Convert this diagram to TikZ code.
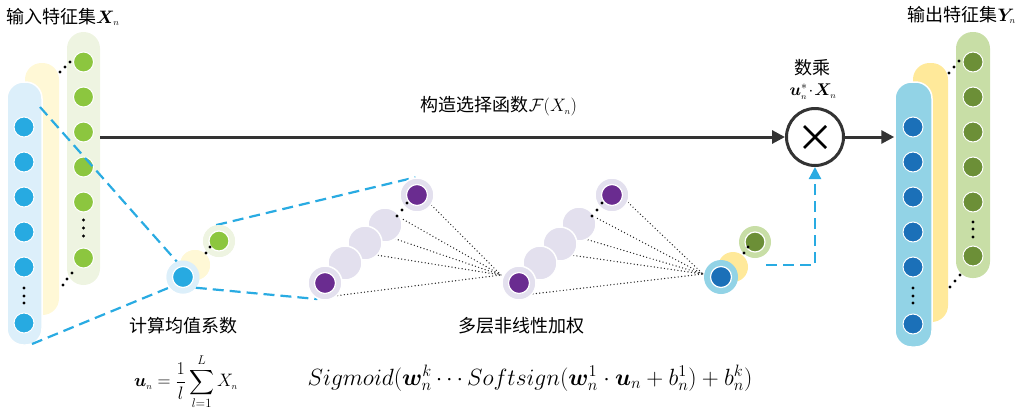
\RequirePackage{fix-cm}
\documentclass[tikz,border=0pt]{standalone}
\usepackage{amsmath,bm}
\usepackage{fontspec}
\newfontfamily\cjk{Noto Sans CJK SC}
\usetikzlibrary{arrows.meta}
\definecolor{lbA}{HTML}{DCEFFA}
\definecolor{lyA}{HTML}{FFF8D6}
\definecolor{lgA}{HTML}{EEF4E1}
\definecolor{cyanA}{HTML}{27AAE1}
\definecolor{grnA}{HTML}{8CC63F}
\definecolor{lbB}{HTML}{92D3E6}
\definecolor{lyB}{HTML}{FFE99A}
\definecolor{lgB}{HTML}{C8DEA6}
\definecolor{dbB}{HTML}{1B70B8}
\definecolor{olB}{HTML}{6C8F37}
\definecolor{purp}{HTML}{6A2C90}
\definecolor{lav}{HTML}{E3E0EE}
\definecolor{dgray}{HTML}{333333}
\definecolor{dashc}{HTML}{29ABE2}
\begin{document}
\begin{tikzpicture}[x=1pt,y=-1pt,
 pill/.style={rectangle, rounded corners=16.5pt, inner sep=0pt},
 cell/.style={circle, draw=white, line width=1pt, inner sep=0pt, minimum size=20pt},
 ring/.style={circle, inner sep=0pt, minimum size=33pt},
 core/.style={circle, draw=white, line width=1.2pt, inner sep=0pt, minimum size=21pt},
 hid/.style={circle, fill=lav, draw=white, line width=1.5pt, inner sep=0pt, minimum size=34pt},
 dsh/.style={draw=dashc, line width=2.2pt, dash pattern=on 11pt off 6pt},
 dotl/.style={draw=black!85, line width=1.4pt, line cap=round, dash pattern=on 0pt off 3.4pt},
 darr/.style={draw=dgray, line width=3pt, -{Triangle[length=13pt,width=13pt]}},
 cjkt/.style={font=\cjk\fontsize{18}{20}\selectfont, inner sep=0pt},
]
\useasboundingbox (0,0) rectangle (1022,413);

% ---------- left stack ----------
\node[pill, fill=lgA, minimum width=33pt, minimum height=253pt] (pLG) at (83.5,158.5) {};
\node[pill, fill=lyA, minimum width=34pt, minimum height=252pt] (pLY) at (42,189) {};
\node[pill, fill=lbA, draw=white, line width=1.5pt, minimum width=35pt, minimum height=263pt] (pLB) at (24.5,213.5) {};
\foreach \y [count=\i] in {62,97,132,167,202,258} \node[cell, fill=grnA] (lg\i) at (83.5,\y) {};
\foreach \y [count=\i] in {127,162,197,232,267,323} \node[cell, fill=cyanA] (lb\i) at (24,\y) {};
\foreach \y in {220,228,236} \fill (83.5,\y) circle (1.7pt);
\foreach \y in {288,296,303} \fill (24,\y) circle (1.7pt);
\foreach \p in {(60,72),(65,67),(70,62),(63,285),(67,279),(72,273)} \fill \p circle (1.7pt);

% ---------- right stack ----------
\node[pill, fill=lgB, minimum width=34pt, minimum height=246pt] (pRG) at (973,155) {};
\node[pill, fill=lyB, minimum width=35pt, minimum height=259pt] (pRY) at (930.5,192.5) {};
\node[pill, fill=lbB, draw=white, line width=1.5pt, minimum width=37pt, minimum height=265pt] (pRB) at (913.5,214.5) {};
\foreach \y [count=\i] in {62,97,132,167,202,256} \node[cell, fill=olB] (rg\i) at (973,\y) {};
\foreach \y [count=\i] in {127,162,197,232,267,324} \node[cell, fill=dbB] (rb\i) at (913,\y) {};
\foreach \y in {222,229,237} \fill (973,\y) circle (1.7pt);
\foreach \y in {288,296,303} \fill (913,\y) circle (1.7pt);
\foreach \p in {(949,73),(954,67),(959,61),(950,287),(955,281),(960,275)} \fill \p circle (1.7pt);

% ---------- dashed zoom lines ----------
\coordinate (lt) at (40,107);
\coordinate (lbt) at (32,344);
\node[ring, fill=lyA, minimum size=30pt] (mY) at (195,265) {};
\node[ring, fill=lgA, minimum size=32pt] (mG) at (219,241) {};
\node[ring, fill=lbA, minimum size=33pt] (mB) at (183,277) {};
\coordinate (cv1) at (501,275);
\coordinate (cv2) at (703,274);
\node[hid] (P1e) at (417,195) {};
\node[hid] (P2e) at (612,195) {};
\node[hid] (P1a) at (325,283) {};
\node[hid] (P2a) at (519,283) {};
\draw[dsh] (lt) -- (mB.112);
\draw[dsh] (lbt) -- (mB.-142);
\draw[dsh] (mG.100) -- (P1e.95);
\draw[dsh] (mB.-40) -- (P1a.-115);

% ---------- dotted links ----------
\draw[dotl] (P1a.-45) -- (cv1);
\draw[dotl] (345,263) ++(-40:17) -- (cv1);
\draw[dotl] (365,243) ++(-35:17) -- (cv1);
\draw[dotl] (385,225) ++(-25:17) -- (cv1);
\draw[dotl] (P1e.-35) -- (cv1);
\draw[dotl] (P2a.-38) -- (cv2);
\draw[dotl] (540,263) ++(-38:17) -- (cv2);
\draw[dotl] (560,244) ++(-28:17) -- (cv2);
\draw[dotl] (579,224) ++(-25:17) -- (cv2);
\draw[dotl] (P2e.-25) -- (cv2);

% ---------- hidden layers ----------
\node[hid] (P1e) at (417,195) {};
\node[core, fill=purp] (P1ei) at (417,195) {};
\node[hid] (P1d) at (385,225) {};
\node[hid] (P1c) at (365,243) {};
\node[hid] (P1b) at (345,263) {};
\node[hid] (P1a) at (325,283) {};
\node[core, fill=purp] (P1ai) at (325,283) {};
\foreach \p in {(397,216),(402,210),(407,203)} \fill \p circle (1.7pt);

\node[hid] (P2e) at (612,195) {};
\node[core, fill=purp] (P2ei) at (612,195) {};
\node[hid] (P2d) at (579,224) {};
\node[hid] (P2c) at (560,244) {};
\node[hid] (P2b) at (540,263) {};
\node[hid] (P2a) at (519,283) {};
\node[core, fill=purp] (P2ai) at (519,283) {};
\foreach \p in {(592,216),(597,210),(602,203)} \fill \p circle (1.7pt);

% ---------- mean node ----------
\node[ring, fill=lyA, minimum size=30pt] (mY) at (195,265) {};
\node[ring, fill=lgA, minimum size=32pt] (mG) at (219,241) {};
\node[core, fill=grnA, minimum size=20pt] (mGi) at (219,241) {};
\node[ring, fill=lbA, minimum size=33pt] (mB) at (183,277) {};
\node[core, fill=cyanA] (mBi) at (183,277) {};
\foreach \p in {(206,253),(210,247)} \fill \p circle (1.7pt);

% ---------- output node ----------
\node[ring, fill=lyB, minimum size=30pt] (oY) at (733,267) {};
\node[ring, fill=lgB, minimum size=32pt] (oG) at (755,242) {};
\node[core, fill=olB, minimum size=20pt] (oGi) at (755,242) {};
\node[ring, fill=lbB, minimum size=34pt] (oB) at (721,277) {};
\node[core, fill=dbB] (oBi) at (721,277) {};
\foreach \p in {(744,253),(748,247)} \fill \p circle (1.7pt);

% ---------- multiplier ----------
\node[circle, draw=dgray, line width=3pt, fill=white, minimum size=57pt, inner sep=0pt] (mult) at (815,137) {};
\draw[line width=2.6pt] ([shift={(-11,-11)}]mult.center) -- ([shift={(11,11)}]mult.center);
\draw[line width=2.6pt] ([shift={(-11,11)}]mult.center) -- ([shift={(11,-11)}]mult.center);
\draw[darr] (pLG.east |- mult) -- (mult.west);
\draw[darr] (mult.east) -- (pRB.west |- mult);
\coordinate (ds) at (766,265);
\draw[dsh, -{Triangle[length=12pt,width=12pt]}] (ds) -| (mult.south);

% ---------- texts ----------
\node[cjkt, anchor=west] (tin) at (6,17) {输入特征集$\bm{X}_{\scriptscriptstyle n}$};
\node[cjkt, anchor=east] (tout) at (1016,15) {输出特征集$\bm{Y}_{\scriptscriptstyle n}$};
\node[cjkt] (tmul) at (812,68) {数乘};
\node[inner sep=0pt, font=\fontsize{17}{20}\selectfont] (tmf) at (813,92) {$\bm{u}_{\scriptscriptstyle n}^{*}\!\cdot\!\bm{X}_{\scriptscriptstyle n}$};
\node[cjkt] (tsel) at (499,106) {构造选择函数$\mathcal{F}(X_{\scriptscriptstyle n})$};
\node[cjkt] (tmean) at (183,326) {计算均值系数};
\node[cjkt] (tmulti) at (521,326) {多层非线性加权};
\node[inner sep=0pt, font=\fontsize{18}{20}\selectfont] (fu) at (186,382) {$\displaystyle \bm{u}_{\scriptscriptstyle n}=\frac{1}{l}\sum_{l=1}^{L}X_{\scriptscriptstyle n}$};
\node[inner sep=0pt, font=\fontsize{23.5}{27}\selectfont] (fs) at (530,378) {$Sigmoid(\bm{w}_n^k \cdots Softsign(\bm{w}_n^1\cdot\bm{u}_n+b_n^1)+b_n^k)$};
\end{tikzpicture}
\end{document}
